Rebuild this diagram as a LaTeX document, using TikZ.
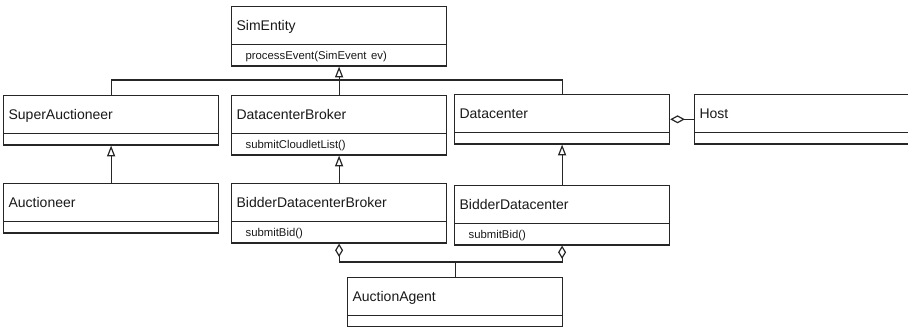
\documentclass[tikz,border=0pt]{standalone}
\usepackage{fontspec}
\setmainfont{Liberation Sans}
\usetikzlibrary{shapes.multipart,arrows.meta}

% compartments of a class box
\newcommand{\classname}[1]{\rule[-10.1pt]{0pt}{27.75pt}#1}
\newcommand{\classops}[1]{\rule[-4.5pt]{0pt}{15pt}\hspace*{6.75pt}{\fontsize{8.5}{10}\selectfont #1}}
\newcommand{\noops}{\rule{0pt}{7.5pt}}

\tikzset{
	umlclass/.style={rectangle split, rectangle split parts=2, draw=black!85, line width=0.9pt,
		text width=153.75pt, inner xsep=3.75pt, inner ysep=0pt, align=left, anchor=north west,
		text=black!90, font=\fontsize{10.5}{12}\selectfont},
	generalise/.style={-{Triangle[open,length=8pt,width=6pt]}},
	aggregate/.style={{Diamond[open,length=10pt,width=6pt]}-{Diamond[open,length=10pt,width=6pt]}},
}

\begin{document}
\begin{tikzpicture}[x=0.75pt, y=-0.75pt, line width=0.9pt, draw=black!85]
	% The canvas
	\useasboundingbox (0, 0) rectangle (908, 326);
	\clip (0, 0) rectangle (908, 326);
	% The classes
	\node[umlclass] (simentity) at (231, 6) {\classname{SimEntity}\nodepart{two}\classops{processEvent(SimEvent ev)}};
	\node[umlclass] (superauc) at (3, 95) {\classname{SuperAuctioneer}\nodepart{two}\noops};
	\node[umlclass] (broker) at (231, 95) {\classname{DatacenterBroker}\nodepart{two}\classops{submitCloudletList()}};
	\node[umlclass] (datacenter) at (454, 94) {\classname{Datacenter}\nodepart{two}\noops};
	\node[umlclass] (host) at (694, 94) {\classname{Host}\nodepart{two}\noops};
	\node[umlclass] (auctioneer) at (3, 183) {\classname{Auctioneer}\nodepart{two}\noops};
	\node[umlclass] (bidderbroker) at (231, 183) {\classname{BidderDatacenterBroker}\nodepart{two}\classops{submitBid()}};
	\node[umlclass] (bidderdc) at (454, 185) {\classname{BidderDatacenter}\nodepart{two}\classops{submitBid()}};
	\node[umlclass] (agent) at (347, 277) {\classname{AuctionAgent}\nodepart{two}\noops};
	% Inheritance from SimEntity
	\coordinate (genbar) at (simentity.south |- 0, 80);
	\draw[generalise] (genbar) -- (simentity.south);
	\draw (superauc.north) |- (genbar) -| (datacenter.north);
	\draw (broker.north) -- (genbar);
	% The bidding subclasses
	\draw[generalise] (auctioneer.north) -- (superauc.south);
	\draw[generalise] (bidderbroker.north) -- (broker.south);
	\draw[generalise] (bidderdc.north) -- (datacenter.south);
	% Aggregations
	\draw[{Diamond[open,length=11pt,width=6pt]}-] (datacenter.east) -- (host.west);
	\coordinate (aggbar) at (agent.north |- 0, 262);
	\draw[aggregate] (bidderbroker.south) |- (aggbar) -| (bidderdc.south);
	\draw (aggbar) -- (agent.north);
\end{tikzpicture}
\end{document}
